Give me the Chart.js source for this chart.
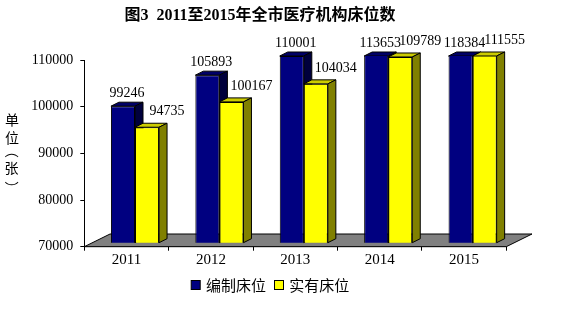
<!DOCTYPE html>
<html><head><meta charset="utf-8">
<script src="https://cdn.jsdelivr.net/npm/chart.js@4.4.0/dist/chart.umd.min.js"></script>
<style>html,body{margin:0;padding:0;background:#fff;overflow:hidden}#wrap{width:569px;height:321px;position:relative}</style>
</head><body><div id="wrap"><canvas id="c" width="569" height="321"></canvas></div>
<script>
const titleText = '图3  2011至2015年全市医疗机构床位数';
const categories = ['2011', '2012', '2013', '2014', '2015'];
const seriesNames = ['编制床位', '实有床位'];
const planned = [99246, 105893, 110001, 113653, 118384];
const actual = [94735, 100167, 104034, 109789, 111555];
const yTicks = [70000, 80000, 90000, 100000, 110000];
const yTitleChars = ['单', '位', '（', '张', '）'];

const SERIF = "'Liberation Serif','Noto Sans CJK SC',serif";
const CJK = "'Noto Sans CJK SC','Liberation Serif',sans-serif";
const SHIFT_X = 8.5, SHIFT_Y = -4;   // bar depth position
const DX = 8, DY = 4;                // bar depth
const FLOOR_DX = 25.7, FLOOR_DY = 12.7;
const faceColors = [
  {front: '#000080', top: '#000066', side: '#00003c'},
  {front: '#ffff00', top: '#cccc00', side: '#808000'}
];

function poly(ctx, pts, fill) {
  ctx.beginPath();
  ctx.moveTo(pts[0][0], pts[0][1]);
  for (let i = 1; i < pts.length; i++) ctx.lineTo(pts[i][0], pts[i][1]);
  ctx.closePath();
  ctx.fillStyle = fill; ctx.fill();
  ctx.lineWidth = 1; ctx.strokeStyle = '#000'; ctx.stroke();
}

function drawFaces(chart, dsIndex) {
  const ctx = chart.ctx, area = chart.chartArea;
  const meta = chart.getDatasetMeta(dsIndex);
  const col = faceColors[dsIndex];
  meta.data.forEach(el => {
    const p = el.getProps(['x', 'y', 'base', 'width'], true);
    const l = p.x - p.width / 2, r = p.x + p.width / 2;
    const t = Math.max(p.y, area.top), b = Math.min(p.base, area.bottom);
    poly(ctx, [[l, t], [l + DX, t - DY], [r + DX, t - DY], [r, t]], col.top);
    poly(ctx, [[r, t], [r + DX, t - DY], [r + DX, b - DY], [r, b]], col.side);
  });
}

function inkText(ctx, ch, cx, cy, rot) {
  ctx.save();
  ctx.textAlign = 'left'; ctx.textBaseline = 'alphabetic';
  const m = ctx.measureText(ch);
  const ix = (m.actualBoundingBoxRight - m.actualBoundingBoxLeft) / 2;
  const iy = (m.actualBoundingBoxDescent - m.actualBoundingBoxAscent) / 2;
  ctx.translate(cx, cy);
  if (rot) ctx.rotate(Math.PI / 2);
  ctx.fillText(ch, -ix, -iy);
  ctx.restore();
}

const deco = {
  id: 'deco',
  beforeDatasetsDraw(chart) {
    const ctx = chart.ctx, a = chart.chartArea;
    poly(ctx, [[a.left, a.bottom], [a.right, a.bottom], [a.right + FLOOR_DX, a.bottom - FLOOR_DY], [a.left + FLOOR_DX, a.bottom - FLOOR_DY]], '#808080');
    ctx.save();
    ctx.translate(SHIFT_X, SHIFT_Y);
  },
  beforeDatasetDraw(chart, args) {
    if (args.index === 1) drawFaces(chart, 0);
  },
  afterDatasetDraw(chart, args) {
    if (args.index === 1) drawFaces(chart, 1);
  },
  afterDatasetsDraw(chart) {
    chart.ctx.restore();
  },
  afterDraw(chart) {
    const ctx = chart.ctx, area = chart.chartArea;
    ctx.save();
    // title
    ctx.fillStyle = '#000';
    ctx.font = 'bold 16px ' + SERIF;
    ctx.textAlign = 'center'; ctx.textBaseline = 'middle';
    ctx.fillText(titleText, 260, 16);
    // data labels
    ctx.font = '14px ' + SERIF;
    const offs = [4, 20], up = [13, 16];
    [0, 1].forEach(di => {
      const meta = chart.getDatasetMeta(di);
      const vals = chart.data.datasets[di].data;
      meta.data.forEach((el, i) => {
        const p = el.getProps(['x', 'y', 'width'], true);
        const t = Math.max(p.y, area.top) + SHIFT_Y;
        ctx.fillText(String(vals[i]), p.x + SHIFT_X + offs[di], t - up[di]);
      });
    });
    // y-axis title (vertical)
    ctx.font = '14px ' + CJK;
    const ys = [120, 137.5, 155.5, 168.5, 183.5];
    yTitleChars.forEach((ch, i) => {
      inkText(ctx, ch, 12, ys[i], ch === '（' || ch === '）');
    });
    // legend
    const leg = [{x: 190.7, tx: 206}, {x: 274, tx: 289.3}];
    ctx.font = '15px ' + CJK;
    ctx.textAlign = 'left'; ctx.textBaseline = 'middle';
    seriesNames.forEach((n, i) => {
      ctx.fillStyle = faceColors[i].front;
      ctx.fillRect(leg[i].x + 0.5, 280.5, 9, 9);
      ctx.strokeStyle = '#000'; ctx.lineWidth = 1;
      ctx.strokeRect(leg[i].x + 0.5, 280.5, 9, 9);
      ctx.fillStyle = '#000';
      ctx.fillText(n, leg[i].tx, 285.5);
    });
    ctx.restore();
  }
};

new Chart(document.getElementById('c'), {
  type: 'bar',
  data: {
    labels: categories,
    datasets: [
      {label: seriesNames[0], data: planned, backgroundColor: faceColors[0].front, borderColor: '#000', borderWidth: 1, borderSkipped: false, clip: 0},
      {label: seriesNames[1], data: actual, backgroundColor: faceColors[1].front, borderColor: '#000', borderWidth: 1, borderSkipped: false, clip: 0}
    ]
  },
  options: {
    responsive: false,
    animation: false,
    devicePixelRatio: 1,
    events: [],
    layout: {padding: {left: 0, right: 62.7, top: 60, bottom: 44.3}},
    datasets: {bar: {barPercentage: 1, categoryPercentage: 0.57}},
    plugins: {legend: {display: false}, title: {display: false}, tooltip: {enabled: false}},
    scales: {
      x: {
        grid: {display: true, drawOnChartArea: false, drawTicks: true, tickLength: 4, color: '#000', offset: true},
        border: {display: true, color: '#000'},
        ticks: {color: '#000', font: {family: SERIF, size: 15}, padding: 0},
        afterFit(s) { s.height = 30; }
      },
      y: {
        min: 70000, max: 110000,
        afterBuildTicks(s) { s.ticks = yTicks.map(v => ({value: v})); },
        grid: {display: true, drawOnChartArea: false, drawTicks: true, tickLength: 4, color: '#000'},
        border: {display: true, color: '#000'},
        ticks: {color: '#000', font: {family: SERIF, size: 14}, padding: 7, callback: v => String(v)},
        afterFit(s) { s.width = 84.3; }
      }
    }
  },
  plugins: [deco]
});
</script></body></html>
